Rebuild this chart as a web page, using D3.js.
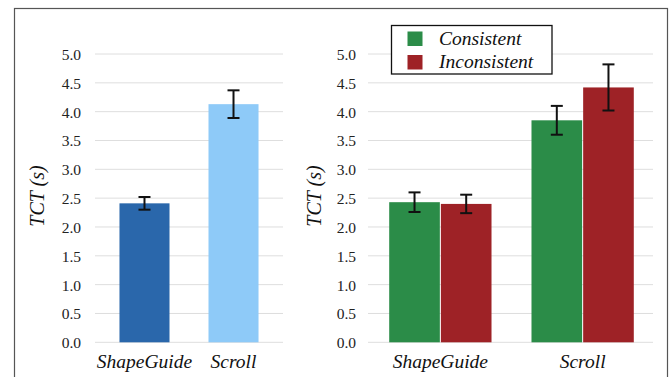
<!DOCTYPE html>
<html>
<head>
<meta charset="utf-8">
<script src="https://cdn.jsdelivr.net/npm/d3@7"></script>
<style>
  @font-face { font-family: "ChartSerif"; font-style: normal; src: local("Liberation Serif"), local("LiberationSerif"), local("LiberationSerif-Regular"); }
  @font-face { font-family: "ChartSerif"; font-style: italic; src: local("Liberation Serif Italic"), local("LiberationSerif-Italic"); }
</style>
</head>
<body style="margin:0">
<svg id="chart" width="669" height="377"></svg>
<script>
// Task completion time by technique, overall and split by consistency
const techniques = ["ShapeGuide", "Scroll"];
const overallMean = [2.41, 4.13];
const overallErr = [0.11, 0.24];
const overallColors = ["#2a67ab", "#8ecaf8"];

const conditions = ["Consistent", "Inconsistent"];
const consistentMean = [2.43, 3.85];
const consistentErr = [0.17, 0.25];
const inconsistentMean = [2.40, 4.42];
const inconsistentErr = [0.16, 0.40];
const conditionColors = ["#2b8c48", "#9e2226"];

const yTicks = [0, 0.5, 1, 1.5, 2, 2.5, 3, 3.5, 4, 4.5, 5];
const yLabel = "TCT (s)";

const svg = d3.select("#chart");

function setFont(sel, size, italic) {
  sel.each(function () {
    this.setAttribute("style",
      `font-family: "Liberation Serif", "ChartSerif", "Times New Roman", Tinos, monospace !important; ` +
      `font-size: ${size}px !important; font-style: ${italic ? "italic" : "normal"} !important;`);
  });
}

// outer frame
svg.append("rect")
  .attr("x", 14.5).attr("y", 8.5)
  .attr("width", 653).attr("height", 400)
  .attr("fill", "none").attr("stroke", "#555").attr("stroke-width", 1.2);

const y = d3.scaleLinear().domain([0, 5]).range([342.3, 54]);

function drawPanel(cfg) {
  const g = svg.append("g");
  // gridlines
  g.selectAll("line.grid").data(yTicks).enter().append("line")
    .attr("x1", cfg.gridX[0]).attr("x2", cfg.gridX[1])
    .attr("y1", d => y(d)).attr("y2", d => y(d))
    .attr("stroke", "#dedede").attr("stroke-width", 1);

  // y axis tick labels (axis line and tick marks hidden)
  const ax = g.append("g")
    .attr("transform", `translate(${cfg.tickX},0)`)
    .call(d3.axisLeft(y).tickValues(yTicks).tickFormat(d3.format(".1f")).tickSize(0).tickPadding(0));
  ax.attr("font-family", null).attr("font-size", null);
  ax.select(".domain").remove();
  ax.selectAll("text").attr("fill", "#222").attr("dy", "0.35em").call(setFont, 15.5, false);

  // y label
  g.append("text")
    .attr("transform", `translate(${cfg.labelX},196) rotate(-90)`)
    .attr("text-anchor", "middle")
    .attr("fill", "#111")
    .call(setFont, 20, true)
    .text(yLabel);

  // category labels
  const x0 = d3.scaleBand().domain(techniques).range(cfg.bandRange).paddingInner(cfg.padInner).paddingOuter(cfg.padOuter);
  g.selectAll("text.cat").data(techniques).enter().append("text")
    .attr("x", d => x0(d) + x0.bandwidth() / 2)
    .attr("y", 368)
    .attr("text-anchor", "middle")
    .attr("fill", "#111")
    .call(setFont, 19.5, true)
    .text(d => d);
  return { g, x0 };
}

function errorBar(g, cx, mean, err) {
  const top = y(mean + err), bot = y(mean - err);
  g.append("line").attr("x1", cx).attr("x2", cx).attr("y1", top).attr("y2", bot)
    .attr("stroke", "#111").attr("stroke-width", 2);
  [top, bot].forEach(v => g.append("line")
    .attr("x1", cx - 6).attr("x2", cx + 6).attr("y1", v).attr("y2", v)
    .attr("stroke", "#111").attr("stroke-width", 2));
}

// Left panel: overall
{
  const { g, x0 } = drawPanel({ gridX: [95, 283], tickX: 81, labelX: 44, bandRange: [95, 283], padInner: 0.438, padOuter: 0.275 });
  techniques.forEach((t, i) => {
    const bx = x0(t);
    g.append("rect")
      .attr("x", bx).attr("width", x0.bandwidth())
      .attr("y", y(overallMean[i])).attr("height", y(0) - y(overallMean[i]))
      .attr("fill", overallColors[i]);
    errorBar(g, bx + x0.bandwidth() / 2, overallMean[i], overallErr[i]);
  });
}

// Right panel: by consistency
{
  const { g, x0 } = drawPanel({ gridX: [368, 653], tickX: 356, labelX: 321, bandRange: [370, 653], padInner: 0.281, padOuter: 0.135 });
  const x1 = d3.scaleBand().domain(conditions).range([0, x0.bandwidth()]).paddingInner(0.02);
  const means = [consistentMean, inconsistentMean];
  const errs = [consistentErr, inconsistentErr];
  techniques.forEach((t, i) => {
    conditions.forEach((c, j) => {
      const bx = x0(t) + x1(c);
      g.append("rect")
        .attr("x", bx).attr("width", x1.bandwidth())
        .attr("y", y(means[j][i])).attr("height", y(0) - y(means[j][i]))
        .attr("fill", conditionColors[j]);
      errorBar(g, bx + x1.bandwidth() / 2, means[j][i], errs[j][i]);
    });
  });

  // legend
  const lg = svg.append("g");
  lg.append("rect").attr("x", 391.5).attr("y", 25.5).attr("width", 160.5).attr("height", 48.5)
    .attr("fill", "#fff").attr("stroke", "#111").attr("stroke-width", 1.3);
  conditions.forEach((c, j) => {
    lg.append("rect").attr("x", 407.5).attr("y", 31.5 + j * 23.5).attr("width", 15).attr("height", 14.5)
      .attr("fill", conditionColors[j]);
    lg.append("text").attr("x", 439).attr("y", 44.5 + j * 23.5)
      .attr("fill", "#111")
      .call(setFont, 19.5, true)
      .text(c);
  });
}
</script>
</body>
</html>
